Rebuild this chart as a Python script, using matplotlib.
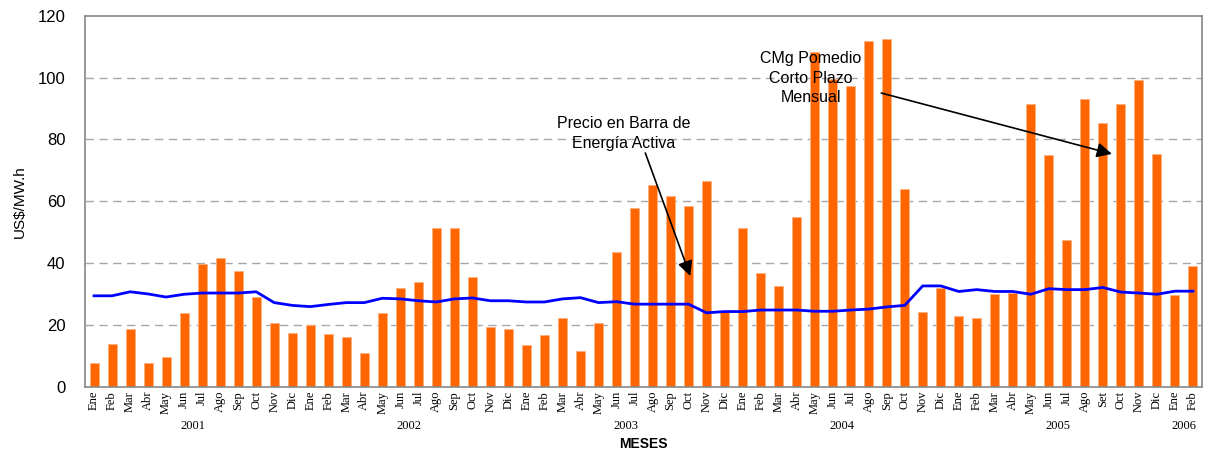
import numpy as np
import matplotlib
matplotlib.use("Agg")
import matplotlib.pyplot as plt

# Monthly data, Ene 2001 .. Feb 2006
months = (["Ene", "Feb", "Mar", "Abr", "May", "Jun", "Jul", "Ago", "Sep", "Oct", "Nov", "Dic"] * 4
          + ["Ene", "Feb", "Mar", "Abr", "May", "Jun", "Jul", "Ago", "Set", "Oct", "Nov", "Dic"]
          + ["Ene", "Feb"])
years = ["2001", "2002", "2003", "2004", "2005", "2006"]

# CMg promedio corto plazo mensual (bars)
cmg = [7.6, 13.9, 18.6, 7.6, 9.6, 23.7, 39.7, 41.7, 37.5, 29.1, 20.6, 17.4,
       20.1, 17.0, 16.2, 10.8, 23.7, 31.9, 33.9, 51.4, 51.4, 35.4, 19.4, 18.6,
       13.5, 16.7, 22.2, 11.6, 20.6, 43.6, 57.7, 65.2, 61.6, 58.4, 66.4, 24.4,
       51.4, 36.8, 32.7, 55.0, 108.4, 99.4, 97.4, 111.8, 112.5, 64.1, 24.1, 31.8,
       22.9, 22.2, 30.0, 30.4, 91.4, 75.0, 47.4, 93.0, 85.2, 91.4, 99.3, 75.4,
       29.5, 39.0]

# Precio en barra de energia activa (line)
pbarra = [29.4, 29.4, 30.7, 30.0, 29.0, 29.9, 30.3, 30.3, 30.3, 30.7, 27.2, 26.3,
          25.9, 26.6, 27.2, 27.2, 28.6, 28.4, 27.8, 27.4, 28.4, 28.7, 27.8, 27.8,
          27.4, 27.4, 28.4, 28.8, 27.2, 27.5, 26.7, 26.7, 26.7, 26.7, 23.9, 24.3,
          24.3, 24.8, 24.8, 24.8, 24.4, 24.4, 24.8, 25.1, 25.8, 26.3, 32.6, 32.6,
          30.8, 31.4, 30.8, 30.8, 29.9, 31.7, 31.4, 31.4, 32.1, 30.6, 30.3, 29.9,
          30.9, 30.9]

x = np.arange(len(cmg))

fig = plt.figure(figsize=(12.08, 4.5), dpi=100)
ax = fig.add_axes([0.0704, 0.1407, 0.9246, 0.8243])

ax.bar(x, cmg, width=0.5, color="#FF6600", edgecolor="#FFB080", linewidth=0.6, zorder=2)
ax.plot(x, pbarra, "-", color="#0000FF", lw=2, zorder=3)

ax.set_xlim(-0.5, len(cmg) - 0.5)
ax.set_ylim(0, 120)
ax.set_yticks(range(0, 121, 20))
ax.tick_params(axis="y", length=0, labelsize=12, pad=14)
for t in ax.get_yticklabels():
    t.set_family("Liberation Sans")

ax.set_xticks(x)
ax.set_xticklabels(months, rotation=90, fontsize=9, family="Liberation Serif")
ax.tick_params(axis="x", length=0, pad=3)

for v in range(20, 120, 20):
    ax.axhline(v, color="#A8A8A8", lw=1, ls=(0, (6, 4)), zorder=1)

for s in ax.spines.values():
    s.set_color("#888888")
    s.set_linewidth(1.2)

for k, yr in enumerate(years):
    xc = 12 * k + 5.5 if k < 5 else 60.5
    ax.text(xc, -0.105, yr, transform=ax.get_xaxis_transform(), ha="center", va="center",
            fontsize=9, family="Liberation Serif")

ax.text(30.5, -0.155, "MESES", transform=ax.get_xaxis_transform(), ha="center", va="center",
        fontsize=10, fontweight="bold", family="Liberation Sans")
ax.set_ylabel("US$/MW.h", fontsize=11, family="Liberation Sans", labelpad=8)

# annotations
ax.text(29.4, 82.0, "Precio en Barra de\nEnergía Activa", ha="center", va="center",
        fontsize=11.5, family="Liberation Sans", linespacing=1.4, zorder=4)
ax.text(39.8, 99.8, "CMg Pomedio\nCorto Plazo\nMensual", ha="center", va="center",
        fontsize=11.5, family="Liberation Sans", linespacing=1.4, zorder=4)

arrow = dict(arrowstyle="-|>,head_length=0.9,head_width=0.45", color="black",
             lw=1.2, shrinkA=0, shrinkB=0)
ax.annotate("", xy=(33.1, 35.8), xytext=(30.6, 75.6), arrowprops=arrow, zorder=4)
ax.annotate("", xy=(56.5, 75.3), xytext=(43.7, 95.0), arrowprops=arrow, zorder=4)

fig.savefig("out.png", dpi=100)
